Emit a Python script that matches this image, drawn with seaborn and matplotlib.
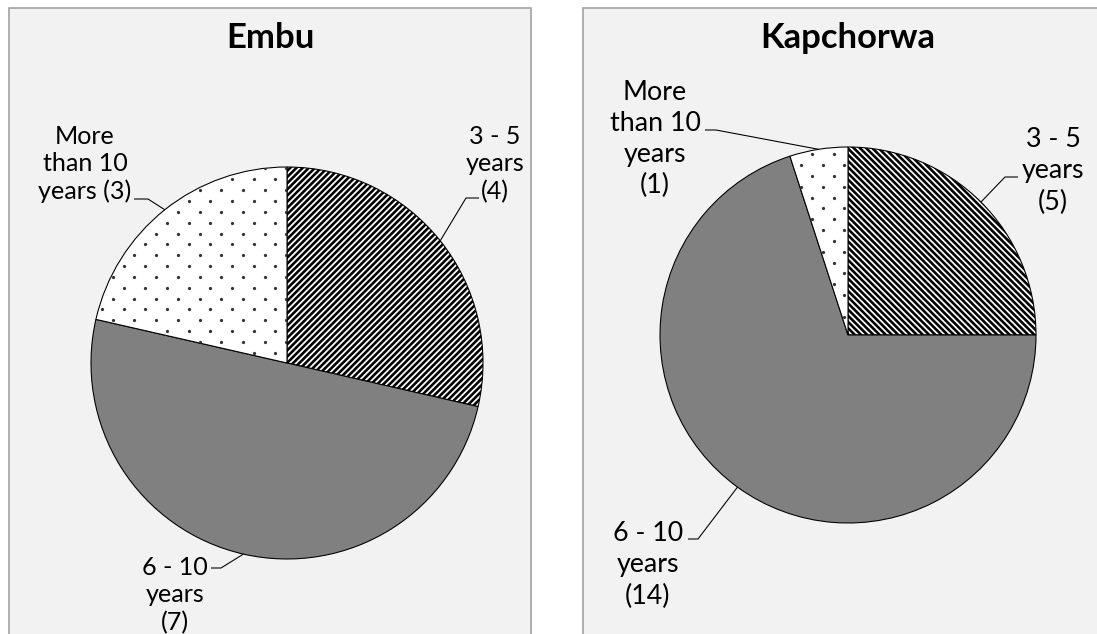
import numpy as np
import matplotlib
matplotlib.use("Agg")
import matplotlib.pyplot as plt
from matplotlib.patches import Rectangle
import seaborn as sns

# Years of experience, counts per district
regions = ["Embu", "Kapchorwa"]
categories = ["3 - 5 years", "6 - 10 years", "More than 10 years"]
embu_counts = [4, 7, 3]
kapchorwa_counts = [5, 14, 1]

sns.set_theme(style="white", rc={"hatch.linewidth": 1.45})
plt.rcParams["font.family"] = ["Lato", "DejaVu Sans"]

DPI = 130
W, H = 1097, 634
fig = plt.figure(figsize=(W / DPI, H / DPI), dpi=DPI)
fig.patch.set_facecolor("white")
ax = fig.add_axes([0, 0, 1, 1])


def Y(y):
    # layout is given in pixels measured from the top edge
    return H - y


fills = ["white", "#808080", "white"]


def dot_texture(wedge, cx, cy, r, step=21.7):
    """Staggered dot fill drawn inside a wedge."""
    rows = np.arange(cy - r - step, cy + r + step, step / 2)
    pts = []
    for i, yy in enumerate(rows):
        shift = (step / 2) if i % 2 else 0.0
        xs = np.arange(cx - r - step, cx + r + step, step) + shift
        pts.append(np.column_stack([xs, np.full_like(xs, yy)]))
    pts = np.vstack(pts)
    sc = ax.scatter(pts[:, 0], pts[:, 1], s=3.2, color="#333333", linewidths=0,
                    zorder=wedge.get_zorder() + 0.1)
    sc.set_clip_path(wedge)


panels = [
    dict(name="Embu", counts=embu_counts, box=(9, 8, 531, 660), title_x=270,
         center=(287, 363), radius=196, stripes="/" * 7, fs=13.9, ls=1.24,
         labels=[
             # text, text centre, leader start, elbow
             ("3 - 5\nyears\n(4)", (495, 164), (479, 198), (466, 198)),
             ("6 - 10\nyears\n(7)", (175, 595), (211, 568), (221, 568)),
             ("More\nthan 10\nyears (3)", (85, 164), (134, 199), (148, 199)),
         ]),
    dict(name="Kapchorwa", counts=kapchorwa_counts, box=(583, 8, 1113, 660), title_x=848,
         center=(848, 335), radius=188, stripes="\\" * 7, fs=14.8, ls=1.3,
         labels=[
             ("3 - 5\nyears\n(5)", (1053, 171), (1018, 177), (1005, 177)),
             ("6 - 10\nyears\n(14)", (648, 565), (688, 539), (698, 539)),
             ("More\nthan 10\nyears\n(1)", (655, 139), (705, 130), (716, 130)),
         ]),
]

for p in panels:
    x0, y0, x1, y1 = p["box"]
    ax.add_patch(Rectangle((x0, Y(y1)), x1 - x0, y1 - y0, facecolor="#F2F2F2",
                           edgecolor="#A0A0A0", linewidth=0.9, zorder=0))
    ax.text(p["title_x"], Y(38), p["name"], ha="center", va="center",
            fontsize=19.2, fontweight="bold", color="black")

    cx, cy = p["center"]
    r = p["radius"]
    wedges, _ = ax.pie(p["counts"], center=(cx, Y(cy)), radius=r, startangle=90,
                       counterclock=False, colors=fills,
                       hatch=[p["stripes"], None, None],
                       wedgeprops=dict(edgecolor="black", linewidth=0.6),
                       frame=True)
    dot_texture(wedges[2], cx, Y(cy), r)

    for w, (txt, (tx, ty), (sx, sy), (ex, ey)) in zip(wedges, p["labels"]):
        mid = np.deg2rad((w.theta1 + w.theta2) / 2)
        px = cx + r * np.cos(mid)
        py = Y(cy) + r * np.sin(mid)
        ax.plot([sx, ex, px], [Y(sy), Y(ey), py], color="black", linewidth=0.6,
                solid_capstyle="butt", zorder=3)
        ax.text(tx, Y(ty), txt, ha="center", va="center", fontsize=p["fs"],
                linespacing=p["ls"], color="black")

ax.set_aspect("auto")
ax.set_xlim(0, W)
ax.set_ylim(0, H)
ax.axis("off")

fig.savefig("out.png", dpi=DPI, facecolor="white")
